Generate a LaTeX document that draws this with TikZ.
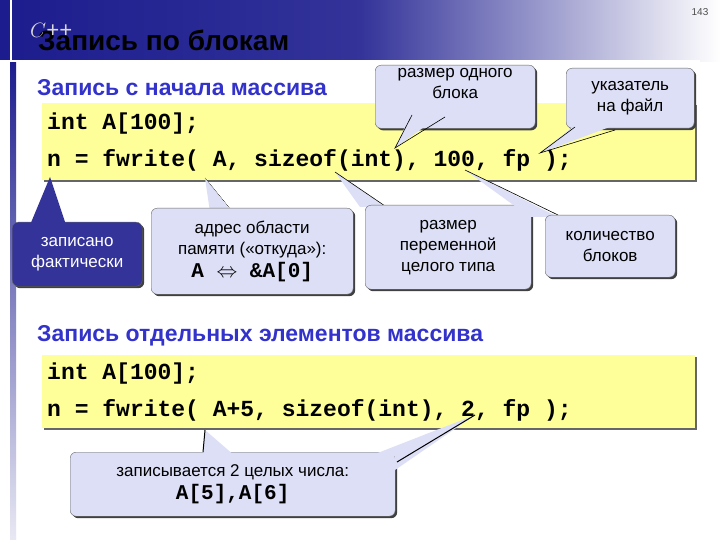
\documentclass[tikz,border=0pt]{standalone}
\usepackage{fontspec}
\setmainfont{Liberation Sans}
\newfontfamily\codefont{Liberation Mono}
\usetikzlibrary{shadows}
\definecolor{navy}{HTML}{1C1C8E}
\definecolor{lav}{HTML}{DCDFF5}
\definecolor{yel}{HTML}{FFFF99}
\definecolor{hblue}{HTML}{3333CC}
\tikzset{
  call/.style={draw=black!60, fill=lav, rounded corners=6pt, align=center, font=\fontsize{17}{21}\selectfont, inner sep=3pt,
    general shadow={fill=black!75, shadow xshift=2pt, shadow yshift=-2pt}},
  codebox/.style={fill=yel, draw=none, general shadow={fill=black!60, shadow xshift=2pt, shadow yshift=-2pt}},
  code/.style={font=\codefont\bfseries\fontsize{23}{25}\selectfont, anchor=west, inner sep=0pt},
  head/.style={font=\bfseries\fontsize{23}{25}\selectfont, text=hblue, anchor=west, inner sep=0pt},
}
\newcommand{\cc}[1]{{\codefont\bfseries\fontsize{21}{23}\selectfont #1}}
\begin{document}
\begin{tikzpicture}[x=1pt,y=-1pt]
\useasboundingbox (0,0) rectangle (720,540);
\fill[white] (0,0) rectangle (720,540);
% title band
\shade[left color=navy, right color=white, middle color=navy!90] (0,0) rectangle (720,62);
\shade[top color=navy, bottom color=navy!10] (10,62) rectangle (16,540);
\draw[white, line width=1.2pt] (0,61) -- (700,61);
\draw[white, line width=1.2pt] (11,0) -- (11,62);
\node[font=\fontsize{10}{11}\selectfont, text=black!70] (pg) at (700,12) {143};
\node[anchor=west, font=\bfseries\fontsize{28}{30}\selectfont, inner sep=0pt] (title) at (38,40) {Запись по блокам};
\node[anchor=west, font=\itshape\fontsize{22}{24}\selectfont, text=white!85!black, inner sep=0pt] (cpp) at (30,30) {$C$++};

\node[head] (h1) at (37,88) {Запись с начала массива};
\node[codebox, minimum width=653, minimum height=77, anchor=north west] (cb1) at (42,103) {};
\node[code] (l1) at (47,124) {int A[100];};
\node[code] (l2) at (47,160) {n = fwrite( A, sizeof(int), 100, fp );};

% callouts top
\coordinate (t1) at (395,148);
\node[call, minimum width=160, minimum height=55, anchor=north west] (c1) at (375,65) {размер одного\\блока\\[6pt]};
\fill[lav] (t1) -- (412,112) -- (445,112) -- cycle;
\draw[line width=0.6pt] (412,115) -- (t1) -- (445,117);

\coordinate (t2) at (540,153);
\node[call, minimum width=128, minimum height=60, anchor=north west] (c2) at (566,68) {указатель\\на файл};
\fill[lav] (t2) -- (575,125) -- (615,125) -- cycle;
\draw[line width=0.6pt] (575,127) -- (t2) -- (615,130);

% bottom callouts
\coordinate (t3) at (50,177);
\node[call, fill=navy!90, text=white, minimum width=130, minimum height=64, anchor=north west] (c3) at (12,222) {записано\\фактически};
\fill[navy!90] (t3) -- (30,225) -- (66,225) -- cycle;

\coordinate (t4) at (205,178);
\fill[lav] (t4) -- (210,212) -- (232,212) -- cycle;
\draw[densely dotted, line width=0.6pt] (t4) -- (232,211);
\node[call, minimum width=202, minimum height=86, anchor=north west] (c4) at (151,208) {адрес области\\памяти («откуда»):\\[2pt]\cc{A $\Leftrightarrow$ \&A[0]}};

\coordinate (t5) at (335,172);
\fill[lav] (t5) -- (385,207) -- (360,207) -- cycle;
\draw[line width=0.6pt] (t5) -- (385,206);
\node[call, minimum width=166, minimum height=84, anchor=north west] (c5) at (365,205) {размер\\переменной\\целого типа};

\coordinate (t6) at (465,170);
\fill[lav] (t6) -- (558,217) -- (530,217) -- cycle;
\draw[line width=0.6pt] (t6) -- (558,215);
\node[call, minimum width=130, minimum height=62, anchor=north west] (c6) at (545,215) {количество\\блоков};

% part 2
\node[head] (h2) at (37,336) {Запись отдельных элементов массива};
\node[codebox, minimum width=653, minimum height=73, anchor=north west] (cb2) at (42,355) {};
\node[code] (l3) at (47,374) {int A[100];};
\node[code] (l4) at (47,410) {n = fwrite( A+5, sizeof(int), 2, fp );};

\coordinate (t7) at (205,430);
\coordinate (t8) at (475,415);
\node[call, minimum width=325, minimum height=64, anchor=north west] (c7) at (70,452) {записывается 2 целых числа:\\[2pt]\cc{A[5],A[6]}};
\fill[lav] (t7) -- (203,456) -- (235,456) -- cycle;
\fill[lav] (t8) -- (370,456) -- (395,456) -- (395,470) -- cycle;
\draw[line width=1pt] (t7) -- (203,452);
\draw[line width=1pt] (t8) -- (397,462);
\end{tikzpicture}
\end{document}
